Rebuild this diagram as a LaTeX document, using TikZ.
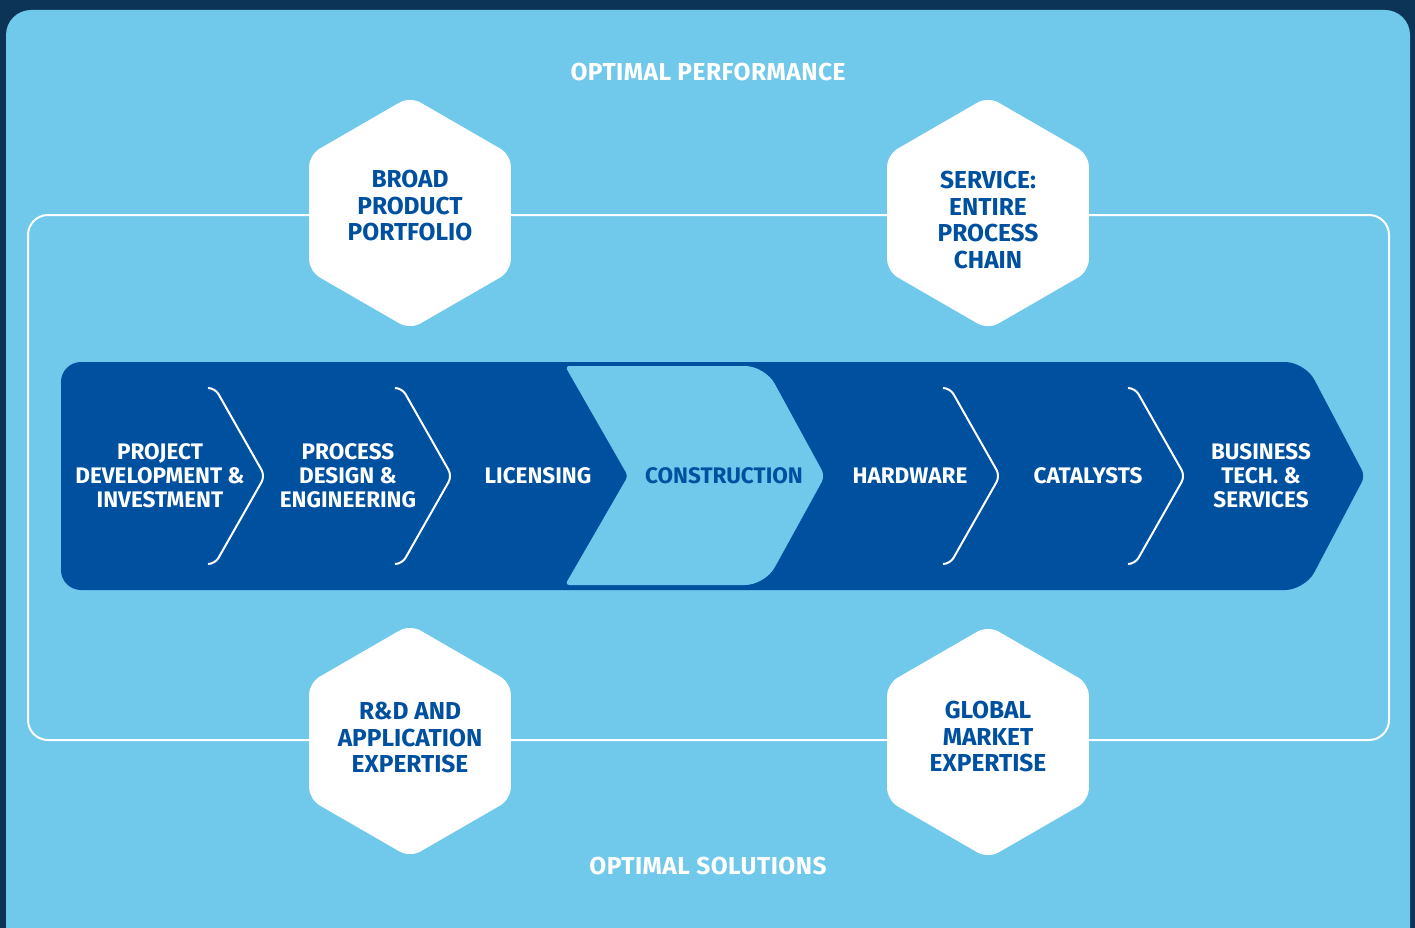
\documentclass[tikz,border=0pt]{standalone}
\usepackage{fontspec}
\setmainfont{Fira Sans}
\usetikzlibrary{shapes.geometric}

\definecolor{navy}{HTML}{0B3457}
\definecolor{sky}{HTML}{70C9EB}
\definecolor{deepblue}{HTML}{0050A0}

\tikzset{
  hexa/.style={regular polygon, regular polygon sides=6, shape border rotate=30,
    minimum size=233pt, inner sep=0pt, fill=white, rounded corners=12pt},
  hextext/.style={text=deepblue, font=\fontsize{24.5}{26.5}\selectfont\bfseries, align=center},
  steplabel/.style={text=white, font=\fontsize{22.5}{24}\selectfont\bfseries, align=center},
  sepline/.style={white, line width=2pt, rounded corners=7pt},
  headline/.style={text=white, font=\fontsize{24.5}{24}\selectfont\bfseries\addfontfeatures{LetterSpace=2}},
}

\begin{document}
\begin{tikzpicture}[x=1pt,y=-1pt]
\useasboundingbox (0,0) rectangle (1415,928);
\fill[navy] (0,0) rectangle (1415,928);
\begin{scope}
\clip (0,0) rectangle (1415,928);
\fill[sky, rounded corners=25pt] (6,10) rectangle (1410,970);
\end{scope}

% frame line
\draw[white, line width=2pt, rounded corners=20pt] (28,215) rectangle (1389,740);

% value chain band
\fill[deepblue, rounded corners=20pt] (61,590) -- (61,362) -- (1305,362)
  [rounded corners=7pt] -- (1365,476) [rounded corners=20pt] -- (1305,590) -- cycle;
\fill[sky, rounded corners=4pt] (565,366) [rounded corners=20pt] -- (765,366)
  [rounded corners=7pt] -- (825,476) [rounded corners=20pt] -- (765,585)
  [rounded corners=4pt] -- (565,585) -- (628,476) -- cycle;

\foreach \x in {210,397,945,1130} {
  \draw[sepline] (\x-2,388) -- (\x+5,388) -- (\x+55,476) -- (\x+5,564) -- (\x-2,564);
}

\node[steplabel] (proj) at (160,476) {PROJECT\\DEVELOPMENT \&\\INVESTMENT};
\node[steplabel] (proc) at (348,476) {PROCESS\\DESIGN \&\\ENGINEERING};
\node[steplabel] (lic) at (538,476) {LICENSING};
\node[steplabel, text=deepblue] (cons) at (724,476) {CONSTRUCTION};
\node[steplabel] (hard) at (910,476) {HARDWARE};
\node[steplabel] (cat) at (1088,476) {CATALYSTS};
\node[steplabel] (bus) at (1261,476) {BUSINESS\\TECH. \&\\SERVICES};

% hexagons on the frame
\node[hexa] (broad) at (410,213) {};
\node[hexa] (serv) at (988,213) {};
\node[hexa] (rnd) at (410,741) {};
\node[hexa] (glob) at (988,742) {};
\node[hextext] (broadtxt) at ([yshift=7pt]broad.center) {BROAD\\PRODUCT\\PORTFOLIO};
\node[hextext] (servtxt) at ([yshift=-7pt]serv.center) {SERVICE:\\ENTIRE\\PROCESS\\CHAIN};
\node[hextext] (rndtxt) at ([yshift=3pt]rnd.center) {R\&D AND\\APPLICATION\\EXPERTISE};
\node[hextext] (globtxt) at ([yshift=5pt]glob.center) {GLOBAL\\MARKET\\EXPERTISE};

\node[headline] (perf) at (708,72) {OPTIMAL PERFORMANCE};
\node[headline] (sol) at (708,866) {OPTIMAL SOLUTIONS};
\end{tikzpicture}
\end{document}
